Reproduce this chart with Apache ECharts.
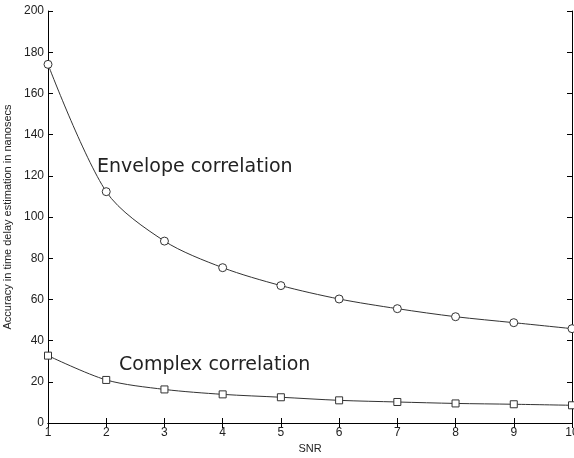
<!DOCTYPE html>
<html>
<head>
<meta charset="utf-8">
<script src="https://cdn.jsdelivr.net/npm/echarts@6/dist/echarts.min.js"></script>
<style>
  html, body { margin: 0; padding: 0; background: #fff; }
  #chart { width: 574px; height: 458px; }
</style>
</head>
<body>
<div id="chart"></div>
<script>
// SNR values on the x axis
var snr = [1, 2, 3, 4, 5, 6, 7, 8, 9, 10];
// accuracy (nanosecs)
var envelope = [174.1, 112.3, 88.3, 75.4, 66.7, 60.2, 55.5, 51.6, 48.7, 45.8];
var complex = [32.7, 20.9, 16.3, 13.9, 12.5, 11.0, 10.2, 9.5, 9.1, 8.6];
var yTicks = [0, 20, 40, 60, 80, 100, 120, 140, 160, 180, 200];

var chart = echarts.init(document.getElementById('chart'));

function pairs(ys) {
  return snr.map(function (x, i) { return [x, ys[i]]; });
}

var lineColor = '#333';
var tickFont = { fontFamily: 'Liberation Sans', fontSize: 12, color: '#222' };

var option = {
  backgroundColor: '#fff',
  animation: false,
  grid: { left: 48, top: 11, right: 2, bottom: 35, containLabel: false, outerBoundsMode: 'none' },
  xAxis: [{
    type: 'value',
    min: 1, max: 10, interval: 1,
    name: 'SNR',
    nameLocation: 'middle',
    nameGap: 19,
    nameTextStyle: { fontFamily: 'Liberation Sans', fontSize: 11, color: '#222' },
    axisLine: { lineStyle: { color: '#000', width: 1 } },
    axisTick: { inside: true, length: 5, lineStyle: { color: '#000' } },
    axisLabel: Object.assign({ margin: 4 }, tickFont),
    splitLine: { show: false }
  }, {
    type: 'value',
    position: 'top',
    min: 1, max: 10, interval: 1,
    axisLine: { show: true, lineStyle: { color: '#000', width: 1 } },
    axisTick: { inside: true, length: 5, lineStyle: { color: '#000' } },
    axisLabel: { show: false },
    splitLine: { show: false }
  }],
  yAxis: [{
    type: 'value',
    min: yTicks[0], max: yTicks[yTicks.length - 1], interval: 20,
    name: 'Accuracy in time delay estimation in nanosecs',
    nameLocation: 'middle',
    nameGap: 30,
    nameTextStyle: { fontFamily: 'Liberation Sans', fontSize: 11, color: '#222' },
    axisLine: { show: true, lineStyle: { color: '#000', width: 1 } },
    axisTick: { inside: true, length: 5, lineStyle: { color: '#000' } },
    axisLabel: Object.assign({ margin: 4 }, tickFont),
    splitLine: { show: false }
  }, {
    type: 'value',
    position: 'right',
    min: yTicks[0], max: yTicks[yTicks.length - 1], interval: 20,
    axisLine: { show: true, lineStyle: { color: '#000', width: 1 } },
    axisTick: { inside: true, length: 5, lineStyle: { color: '#000' } },
    axisLabel: { show: false },
    splitLine: { show: false }
  }],
  series: [{
    name: 'Envelope correlation',
    type: 'line',
    data: pairs(envelope),
    smooth: 0.3,
    symbol: 'circle',
    symbolSize: 8,
    lineStyle: { color: lineColor, width: 1 },
    itemStyle: { color: '#fff', borderColor: lineColor, borderWidth: 1 }
  }, {
    name: 'Complex correlation',
    type: 'line',
    data: pairs(complex),
    smooth: 0.3,
    symbol: 'rect',
    symbolSize: 7,
    lineStyle: { color: lineColor, width: 1 },
    itemStyle: { color: '#fff', borderColor: lineColor, borderWidth: 1 }
  }],
  graphic: [{
    type: 'text',
    left: 97, top: 158,
    style: { text: 'Envelope correlation', font: '19px "DejaVu Sans"', fill: '#222' }
  }, {
    type: 'text',
    left: 119, top: 356,
    style: { text: 'Complex correlation', font: '19px "DejaVu Sans"', fill: '#222' }
  }]
};

chart.setOption(option);
</script>
</body>
</html>
